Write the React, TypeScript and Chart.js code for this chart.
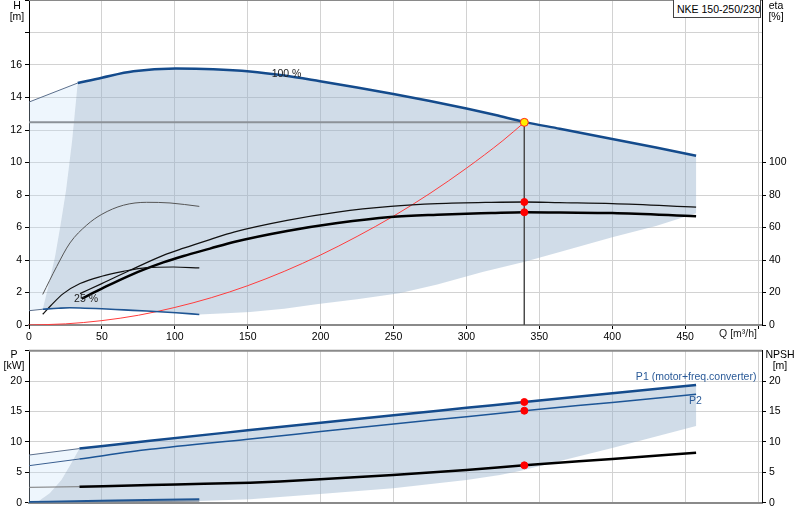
import React, { useEffect, useRef } from 'react';
import { Chart, registerables } from 'chart.js';

Chart.register(...registerables);

// ---------------- data ----------------
const Q_TICKS = [0, 50, 100, 150, 200, 250, 300, 350, 400, 450, 500];
const H_TICKS = [0, 2, 4, 6, 8, 10, 12, 14, 16, 18, 20];
const ETA_TICKS = [0, 20, 40, 60, 80, 100];
const P_TICKS = [0, 5, 10, 15, 20, 25];
const NPSH_TICKS = [0, 5, 10, 15, 20];

// head curves (Q m3/h, H m)
const h100ExtQ = [0, 33.4];
const h100ExtH = [13.72, 14.89];
const h100Q = [33.4, 50, 71.6, 100.6, 126.4, 151.6, 175, 199.6, 225, 249.9, 275, 300, 320, 339.7, 364, 400, 430, 457.5];
const h100H = [14.89, 15.22, 15.61, 15.78, 15.74, 15.6, 15.35, 15.0, 14.62, 14.22, 13.78, 13.32, 12.92, 12.5, 12.08, 11.45, 10.92, 10.42];
const h25ExtQ = [0, 9.4];
const h25ExtH = [0.88, 0.97];
const h25Q = [9.4, 20, 28, 35, 50, 65, 80.7, 101, 116.8];
const h25H = [0.97, 1.03, 1.06, 1.05, 1.0, 0.93, 0.86, 0.75, 0.65];
// envelope borders (top chart)
const edgeQ = [9.4, 12.6, 17.8, 21.5, 25.4, 29.5, 33.4];
const edgeH = [0.97, 2.14, 4.18, 6.1, 8.29, 11.3, 14.89];
const lowQ = [116.8, 135, 151.6, 175, 197, 225, 254, 280, 311, 340, 364, 400, 430, 457.5];
const lowH = [0.65, 0.72, 0.8, 1.0, 1.27, 1.58, 1.95, 2.5, 3.26, 3.9, 4.5, 5.4, 6.1, 6.87];
// system curve
const sysQ = [0, 25, 50, 75, 100, 125, 150, 175, 200, 225, 250, 275, 300, 325, 339.7];
const sysH = [0, 0.07, 0.27, 0.6, 1.08, 1.68, 2.42, 3.3, 4.31, 5.45, 6.7, 8.1, 9.65, 11.35, 12.47];
// efficiency curves (eta %)
const etaMinAQ = [9.4, 19, 28.1, 39.6, 49.9, 64.7, 80.7, 96.7, 116.8];
const etaMinA = [18.8, 36, 50.5, 61.5, 68.1, 73.7, 75.5, 75.1, 73];
const etaMinBQ = [9.4, 15, 23.5, 35, 49.9, 64.7, 80.7, 99, 116.8];
const etaMinB = [6.6, 12, 19.3, 25.5, 30, 33, 35.3, 35.7, 35.1];
const etaTotQ = [35, 49.9, 69.3, 92.1, 106, 124.1, 140.5, 177, 211.6, 248, 280, 317, 339.7, 364, 400, 457.5];
const etaTot = [19.3, 25.5, 33.7, 42.9, 47.3, 52.6, 57.2, 64.4, 69.5, 73, 74.7, 75.5, 75.7, 75.3, 74.7, 72.6];
const etaPumpQ = [36.1, 49.9, 69.3, 92.1, 106, 124.1, 140.5, 177, 211.6, 248, 280, 317, 339.7, 364, 400, 457.5];
const etaPump = [16.2, 22.4, 30.6, 38.5, 42.5, 47, 51.1, 57.9, 62.8, 66.5, 67.9, 68.9, 69.4, 69.2, 68.9, 66.9];
// duty point
const dutyQ = 339.7;
const dutyH = 12.47;
const dutyEta = [75.7, 69.4];

// power / NPSH (bottom chart)
const p1ExtQ = [0, 34.6];
const p1ExtP = [7.84, 8.9];
const p1Q = [34.6, 83, 150, 200, 250, 300, 339.7, 400, 457.5];
const p1P = [8.9, 10.2, 11.9, 13.15, 14.4, 15.6, 16.56, 18.0, 19.36];
const p2ExtQ = [0, 34.6];
const p2ExtP = [6.09, 7.19];
const p2Q = [34.6, 83, 150, 200, 250, 300, 339.7, 400, 457.5];
const p2P = [7.19, 8.78, 10.45, 11.7, 12.95, 14.15, 15.13, 16.5, 17.83];
const npshExtQ = [0, 34.6];
const npshExt = [2.53, 2.63];
const npshQ = [34.6, 83, 120, 151.6, 172, 199.6, 249.7, 300, 339.7, 400, 457.5];
const npsh = [2.63, 2.91, 3.1, 3.29, 3.5, 3.85, 4.56, 5.38, 6.15, 7.2, 8.22];
const pMinQ = [0, 40, 80, 116.8];
const pMinP = [0.12, 0.28, 0.43, 0.58];
const pMin2Q = [0, 116.8];
const pMin2P = [0.05, 0.3];
const pEdgeQ = [6.2, 14.2, 22.2, 29, 34.6];
const pEdgeP = [0.2, 1.55, 3.73, 6.48, 8.9];
const pLowQ = [6.2, 60, 117, 151.6, 199.6, 249.7, 300, 323, 336.6, 400, 457.5];
const pLowP = [0.2, 0.25, 0.3, 0.55, 1.43, 2.37, 3.73, 4.55, 5.2, 9.0, 12.6];
const dutyP = [16.56, 15.13];
const dutyNpsh = 6.15;

// ---------------- helpers ----------------
const FONT_FAMILY = '"Liberation Sans", Arial, sans-serif';
const TICK_FONT = { family: FONT_FAMILY, size: 10.5 };
const X_MAX = 502.7;

type Pt = { x: number; y: number };
const xy = (xs: number[], ys: number[]): Pt[] => xs.map((x, i) => ({ x, y: ys[i] }));
const rev = (a: Pt[]) => [...a].reverse();

const fixW = (w: number) => (s: any) => {
  s.width = w;
  s.paddingTop = 0; s.paddingBottom = 0; s.paddingLeft = 0; s.paddingRight = 0;
};
const fixH = (h: number) => (s: any) => {
  s.height = h;
  s.paddingTop = 0; s.paddingBottom = 0; s.paddingLeft = 0; s.paddingRight = 0;
};
const setTicks = (vals: number[]) => (s: any) => {
  s.ticks = vals.map((v) => ({ value: v }));
};

const line = (data: Pt[], color: string, width: number, yAxisID: string, order: number, extra: any = {}) => ({
  data,
  borderColor: color,
  borderWidth: width,
  pointRadius: 0,
  fill: false,
  cubicInterpolationMode: 'monotone',
  yAxisID,
  order,
  ...extra,
});
const poly = (data: Pt[], color: string, yAxisID: string, order: number) => ({
  data,
  borderWidth: 0,
  borderColor: 'rgba(0,0,0,0)',
  backgroundColor: color,
  pointRadius: 0,
  fill: 'shape',
  tension: 0,
  yAxisID,
  order,
});
const dots = (data: Pt[], yAxisID: string, color = '#ff0000', border = '#ff0000', r = 3.5) => ({
  data,
  showLine: false,
  pointRadius: r,
  pointBackgroundColor: color,
  pointBorderColor: border,
  pointBorderWidth: 1,
  yAxisID,
  order: 0,
});

type Lbl = { text: string; q: number; v: number; axis: string; color: string };
const labelPlugin = (labels: Lbl[]) => ({
  id: 'curveLabels',
  afterDatasetsDraw(chart: any) {
    const ctx = chart.ctx;
    const xs = chart.scales.x;
    ctx.save();
    ctx.font = `10.5px ${FONT_FAMILY}`;
    ctx.textBaseline = 'middle';
    ctx.textAlign = 'left';
    for (const l of labels) {
      ctx.fillStyle = l.color;
      ctx.fillText(l.text, xs.getPixelForValue(l.q), chart.scales[l.axis].getPixelForValue(l.v));
    }
    ctx.restore();
  },
});
const framePlugin = {
  id: 'topFrame',
  afterDraw(chart: any) {
    const { left, right, top } = chart.chartArea;
    const ctx = chart.ctx;
    ctx.save();
    ctx.strokeStyle = '#8a8a8a';
    ctx.lineWidth = 2;
    ctx.beginPath();
    ctx.moveTo(left, top);
    ctx.lineTo(right, top);
    ctx.stroke();
    ctx.restore();
  },
};

const GRID = '#d2d2d2';
const ENV = 'rgba(151,177,204,0.45)';
const LIGHT = 'rgba(200,225,250,0.3)';
const DARK_BLUE = '#144b8c';

const xScale = (showLabels: boolean, height: number) => ({
  type: 'linear',
  min: 0,
  max: X_MAX,
  afterBuildTicks: setTicks(Q_TICKS),
  afterFit: fixH(height),
  grid: { color: GRID, tickColor: '#000', tickLength: 4, drawTicks: showLabels },
  border: { color: '#8a8a8a', width: 2 },
  ticks: {
    display: showLabels,
    autoSkip: false,
    maxRotation: 0,
    padding: 2,
    color: '#000',
    font: TICK_FONT,
    callback: (v: number) => (v === 500 ? '' : String(v)),
  },
});

function topConfig(): any {
  const envelope = [
    ...xy(edgeQ, edgeH),
    ...xy(h100Q, h100H).slice(1),
    ...rev(xy(lowQ, lowH)),
    ...rev(xy(h25Q, h25H)).slice(1),
  ];
  const light = [{ x: 0, y: h25ExtH[0] }, ...xy(h100ExtQ, h100ExtH), ...rev(xy(edgeQ, edgeH)).slice(1)];
  return {
    type: 'line',
    data: {
      datasets: [
        poly(light, LIGHT, 'y', 100),
        poly(envelope, ENV, 'y', 99),
        line([{ x: 0, y: dutyH }, { x: dutyQ, y: dutyH }], '#8c9298', 2, 'y', 60),
        line([{ x: dutyQ, y: dutyH }, { x: dutyQ, y: 0 }], '#4a4a4a', 1, 'y', 59, { cubicInterpolationMode: 'default', tension: 0 }),
        line(xy(sysQ, sysH), '#ff3c3c', 1, 'y', 40),
        line(xy(h100ExtQ, h100ExtH), '#5b6f8c', 1, 'y', 30),
        line(xy(h100Q, h100H), DARK_BLUE, 2.5, 'y', 20),
        line(xy(h25ExtQ, h25ExtH), '#5b6f8c', 1, 'y', 30),
        line(xy(h25Q, h25H), '#1f5593', 1.6, 'y', 21),
        line(xy(etaMinAQ, etaMinA), '#555555', 1, 'eta', 22),
        line(xy(etaMinBQ, etaMinB), '#111111', 1.2, 'eta', 23),
        line(xy(etaTotQ, etaTot), '#111111', 1.3, 'eta', 24),
        line(xy(etaPumpQ, etaPump), '#000000', 2.5, 'eta', 25),
        dots([{ x: dutyQ, y: dutyEta[0] }, { x: dutyQ, y: dutyEta[1] }], 'eta'),
        dots([{ x: dutyQ, y: dutyH }], 'y', '#ffee00', '#ff2020', 4),
      ],
    },
    options: {
      responsive: false,
      animation: false,
      events: [],
      layout: { padding: 0, autoPadding: false },
      plugins: { legend: { display: false }, tooltip: { enabled: false } },
      scales: {
        x: xScale(true, 20),
        y: {
          type: 'linear',
          position: 'left',
          min: 0,
          max: 20,
          afterBuildTicks: setTicks(H_TICKS),
          afterFit: fixW(29),
          grid: { color: GRID, tickColor: '#000', tickLength: 4 },
          border: { color: '#000', width: 1 },
          ticks: { padding: 3, color: '#000', font: TICK_FONT, callback: (v: number) => (v > 16 ? '' : String(v)) },
        },
        eta: {
          type: 'linear',
          position: 'right',
          min: 0,
          max: 200,
          afterBuildTicks: setTicks(ETA_TICKS),
          afterFit: fixW(38),
          grid: { drawOnChartArea: false, tickColor: '#000', tickLength: 4 },
          border: { color: '#000', width: 1 },
          ticks: { padding: 3, color: '#000', font: TICK_FONT },
        },
      },
    },
    plugins: [
      framePlugin,
      labelPlugin([
        { text: '100 %', q: 166.4, v: 15.45, axis: 'y', color: '#222' },
        { text: '25 %', q: 30.9, v: 1.57, axis: 'y', color: '#222' },
      ]),
    ],
  };
}

function bottomConfig(): any {
  const envelope = [...xy(pEdgeQ, pEdgeP), ...xy(p1Q, p1P).slice(1), ...rev(xy(pLowQ, pLowP))];
  const light = [{ x: 0, y: pMinP[0] }, ...xy(p1ExtQ, p1ExtP), ...rev(xy(pEdgeQ, pEdgeP)).slice(1)];
  return {
    type: 'line',
    data: {
      datasets: [
        poly(light, LIGHT, 'y', 100),
        poly(envelope, ENV, 'y', 99),
        line(xy(p1ExtQ, p1ExtP), '#5b6f8c', 1, 'y', 30),
        line(xy(p1Q, p1P), DARK_BLUE, 2.5, 'y', 20),
        line(xy(p2ExtQ, p2ExtP), '#3a5f90', 1, 'y', 30),
        line(xy(p2Q, p2P), '#1c5596', 1.5, 'y', 21),
        line(xy(npshExtQ, npshExt), '#777777', 1, 'npsh', 30),
        line(xy(npshQ, npsh), '#000000', 2.5, 'npsh', 22),
        line(xy(pMin2Q, pMin2P), '#8a94a0', 1.5, 'y', 24),
        line(xy(pMinQ, pMinP), '#1f5593', 2, 'y', 23),
        dots([{ x: dutyQ, y: dutyP[0] }, { x: dutyQ, y: dutyP[1] }], 'y'),
        dots([{ x: dutyQ, y: dutyNpsh }], 'npsh'),
      ],
    },
    options: {
      responsive: false,
      animation: false,
      events: [],
      layout: { padding: { top: 5.7, left: 0, right: 0, bottom: 0 }, autoPadding: false },
      plugins: { legend: { display: false }, tooltip: { enabled: false } },
      scales: {
        x: xScale(false, 17.3),
        y: {
          type: 'linear',
          position: 'left',
          min: 0,
          max: 25,
          afterBuildTicks: setTicks(P_TICKS),
          afterFit: fixW(29),
          grid: { color: GRID, tickColor: '#000', tickLength: 4 },
          border: { color: '#000', width: 1 },
          ticks: { padding: 3, color: '#000', font: TICK_FONT, callback: (v: number) => (v > 20 ? '' : String(v)) },
        },
        npsh: {
          type: 'linear',
          position: 'right',
          min: 0,
          max: 25,
          afterBuildTicks: setTicks(NPSH_TICKS),
          afterFit: fixW(38),
          grid: { drawOnChartArea: false, tickColor: '#000', tickLength: 4 },
          border: { color: '#000', width: 1 },
          ticks: { padding: 3, color: '#000', font: TICK_FONT },
        },
      },
    },
    plugins: [
      framePlugin,
      labelPlugin([
        { text: 'P1 (motor+freq.converter)', q: 416.2, v: 20.72, axis: 'y', color: '#2a5a98' },
        { text: 'P2', q: 452.7, v: 16.73, axis: 'y', color: '#2a5a98' },
      ]),
    ],
  };
}

const unitStyle = (left: number, top: number, width: number): React.CSSProperties => ({
  position: 'absolute',
  left,
  top,
  width,
  textAlign: 'center',
  lineHeight: '11px',
  fontSize: 10.5,
  whiteSpace: 'nowrap',
});

export default function App() {
  const topRef = useRef<HTMLCanvasElement>(null);
  const botRef = useRef<HTMLCanvasElement>(null);

  useEffect(() => {
    const top = new Chart(topRef.current as HTMLCanvasElement, topConfig());
    const bot = new Chart(botRef.current as HTMLCanvasElement, bottomConfig());
    return () => {
      top.destroy();
      bot.destroy();
    };
  }, []);

  return (
    <div
      style={{
        position: 'absolute',
        left: 0,
        top: 0,
        width: 800,
        height: 520,
        background: '#fff',
        fontFamily: FONT_FAMILY,
        color: '#000',
        overflow: 'hidden',
      }}
    >
      <canvas ref={topRef} width={800} height={345} style={{ position: 'absolute', left: 0, top: 0, width: 800, height: 345 }} />
      <canvas ref={botRef} width={800} height={175} style={{ position: 'absolute', left: 0, top: 345, width: 800, height: 175 }} />
      <div style={unitStyle(4, 0, 26)}>H<br />[m]</div>
      <div style={unitStyle(763, 0, 26)}>eta<br />[%]</div>
      <div style={unitStyle(1, 349, 26)}>P<br />[kW]</div>
      <div style={unitStyle(764, 349, 32)}>NPSH<br />[m]</div>
      <div style={{ position: 'absolute', left: 690, top: 328, width: 67, textAlign: 'right', fontSize: 10.5, lineHeight: '11px', color: '#222' }}>
        Q [m³/h]
      </div>
      <div
        style={{
          position: 'absolute',
          left: 673,
          top: -1,
          width: 88,
          height: 19,
          border: '1px solid #444',
          background: '#fff',
          fontSize: 10.5,
          lineHeight: '19px',
          paddingLeft: 3,
          boxSizing: 'border-box',
          whiteSpace: 'nowrap',
        }}
      >
        NKE 150-250/230
      </div>
    </div>
  );
}
